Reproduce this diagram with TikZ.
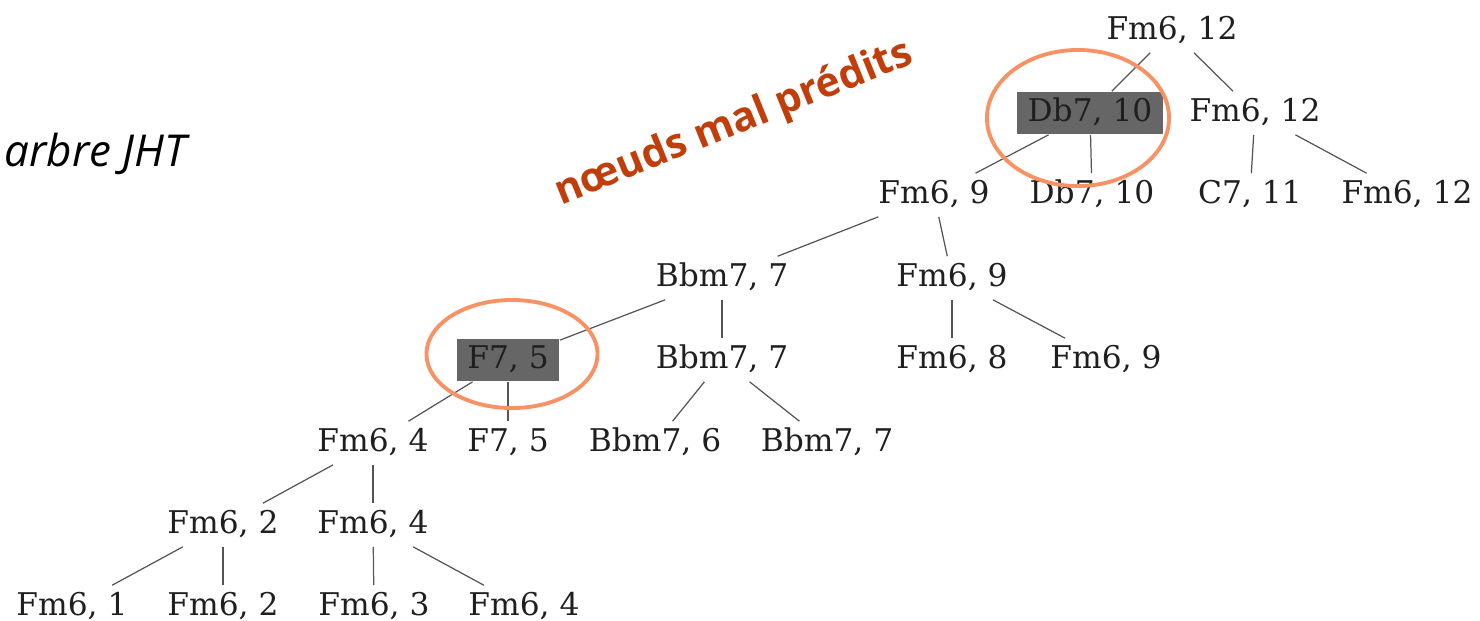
\documentclass[tikz,border=0pt]{standalone}
\usepackage{fontspec}
\setmainfont{DejaVu Serif}
\newfontfamily\notefont{Open Sans}
\definecolor{boxgray}{RGB}{102,102,102}
\definecolor{edgegray}{RGB}{85,85,85}
\definecolor{ringorange}{RGB}{248,146,100}
\definecolor{notered}{RGB}{193,61,10}
\tikzset{
  chord/.style={font=\fontsize{8.9}{10}\selectfont, text=black!88, inner xsep=3pt, inner ysep=1.5pt, text height=6.8pt, text depth=2.2pt},
  wrong/.style={chord, fill=boxgray},
  branch/.style={draw=edgegray, line width=0.35pt},
  ring/.style={draw=ringorange, line width=1.1pt}
}
\begin{document}
\begin{tikzpicture}[x=0.01cm, y=-0.01cm]
    \useasboundingbox (0,0) rectangle (1480,620);

    \node[anchor=base west, inner sep=0pt, font=\notefont\itshape\fontsize{12.5}{14}\selectfont] (title) at (4,166) {arbre JHT};

    % level 0 and 1
    \node[chord] (r) at (1172,31) {Fm6, 12};
    \node[wrong] (a) at (1090,113) {Db7, 10};
    \node[chord] (b) at (1255,113) {Fm6, 12};

    % level 2
    \node[chord] (aa) at (934,195) {Fm6, 9};
    \node[chord] (ab) at (1092,195) {Db7, 10};
    \node[chord] (ba) at (1250,195) {C7, 11};
    \node[chord] (bb) at (1407,195) {Fm6, 12};

    % level 3 and 4
    \node[chord] (c) at (722,278) {Bbm7, 7};
    \node[chord] (d) at (952,278) {Fm6, 9};
    \node[wrong] (ca) at (508,360) {F7, 5};
    \node[chord] (cb) at (722,360) {Bbm7, 7};
    \node[chord] (da) at (952,360) {Fm6, 8};
    \node[chord] (db) at (1106,360) {Fm6, 9};

    % level 5
    \node[chord] (e) at (373,443) {Fm6, 4};
    \node[chord] (f) at (508,443) {F7, 5};
    \node[chord] (g) at (655,443) {Bbm7, 6};
    \node[chord] (h) at (827,443) {Bbm7, 7};

    % level 6 and 7
    \node[chord] (ea) at (223,525) {Fm6, 2};
    \node[chord] (eb) at (373,525) {Fm6, 4};
    \node[chord] (eaa) at (72,607) {Fm6, 1};
    \node[chord] (eab) at (223,607) {Fm6, 2};
    \node[chord] (eba) at (374,607) {Fm6, 3};
    \node[chord] (ebb) at (524,607) {Fm6, 4};

    \draw[branch] (r) -- (a);
    \draw[branch] (r) -- (b);
    \draw[branch] (a) -- (aa);
    \draw[branch] (a) -- (ab);
    \draw[branch] (b) -- (ba);
    \draw[branch] (b) -- (bb);
    \draw[branch] (aa) -- (c);
    \draw[branch] (aa) -- (d);
    \draw[branch] (c) -- (ca);
    \draw[branch] (c) -- (cb);
    \draw[branch] (d) -- (da);
    \draw[branch] (d) -- (db);
    \draw[branch] (ca) -- (e);
    \draw[branch] (ca) -- (f);
    \draw[branch] (cb) -- (g);
    \draw[branch] (cb) -- (h);
    \draw[branch] (e) -- (ea);
    \draw[branch] (e) -- (eb);
    \draw[branch] (ea) -- (eaa);
    \draw[branch] (ea) -- (eab);
    \draw[branch] (eb) -- (eba);
    \draw[branch] (eb) -- (ebb);

    \draw[ring] (1078,118) ellipse [x radius=0.91cm, y radius=0.68cm];
    \draw[ring] (512,354) ellipse [x radius=0.855cm, y radius=0.54cm];
    \node[anchor=base, inner sep=0pt, rotate=22, text=notered, font=\notefont\bfseries\fontsize{11.6}{13}\selectfont] (note) at (738,134) {nœuds mal prédits};
    \end{tikzpicture}
\end{document}
